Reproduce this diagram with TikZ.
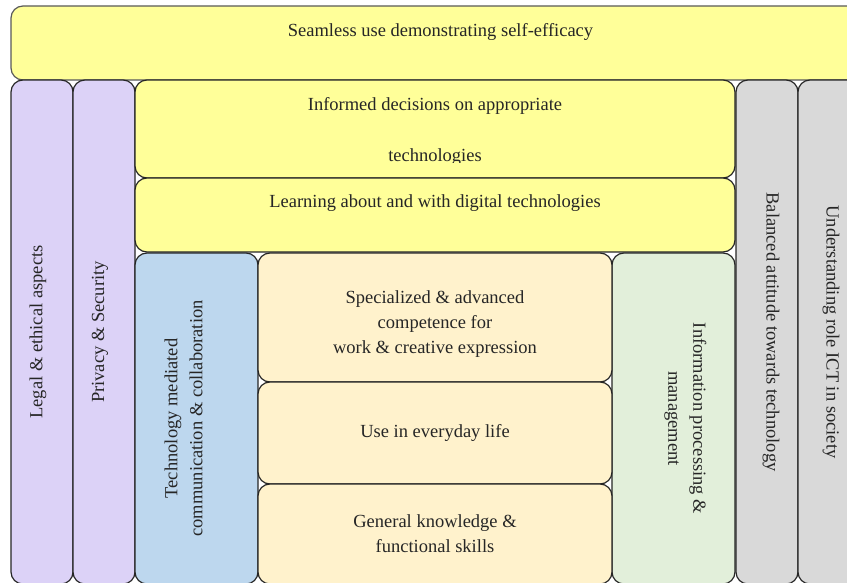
\documentclass[tikz,border=0pt]{standalone}
\usepackage{fontspec}
\setmainfont{Liberation Serif}
\usetikzlibrary{positioning}
\definecolor{fillYellow}{RGB}{255,255,153}
\definecolor{fillLilac}{RGB}{220,210,247}
\definecolor{fillBlue}{RGB}{189,215,238}
\definecolor{fillCream}{RGB}{255,242,204}
\definecolor{fillGreen}{RGB}{226,239,218}
\definecolor{fillGrey}{RGB}{217,217,217}
\tikzset{
	block/.style={
		% The shape:
		rectangle,rounded corners=12pt,inner sep=0pt,
		% The border:
		line width=1.2pt,
		draw=black!85,
	}}
\tikzset{
	caption/.style={
		% The text only:
		text=black!85,font=\fontsize{18.5}{25}\selectfont,align=center,
		inner sep=0pt,
	}}

\begin{document}
\begin{tikzpicture}[x=1pt,y=-1pt]
				\useasboundingbox (0,0) rectangle (847,583);
				\clip (0,0) rectangle (847,583);
				% top band
				\node[block,fill=fillYellow,draw=black!65,minimum width=859,minimum height=74] (top) at (440.5,43) {};
				\node[caption,anchor=base] (toptext) at ([yshift=-31pt]top.north) {Seamless use demonstrating self-efficacy};
				% left columns
				\node[block,fill=fillLilac,minimum width=62,minimum height=504] (legal) at (42,332) {};
				\node[caption,rotate=90] at ([xshift=-4pt]legal.center) {Legal \& ethical aspects};
				\node[block,fill=fillLilac,minimum width=62,minimum height=504] (privacy) at (104,332) {};
				\node[caption,rotate=90] at ([xshift=-4pt]privacy.center) {Privacy \& Security};
				% right columns
				\node[block,fill=fillGrey,minimum width=62,minimum height=504] (balanced) at (767,332) {};
				\node[caption,rotate=-90] at ([xshift=4pt]balanced.center) {Balanced attitude towards technology};
				\node[block,fill=fillGrey,minimum width=62,minimum height=504] (society) at (829,332) {};
				\node[caption,rotate=-90] at ([xshift=2pt]society.center) {Understanding role ICT in society};
				% middle bands
				\node[block,fill=fillYellow,minimum width=600,minimum height=98] (informed) at (435,129) {};
				\node[caption,anchor=base] (informedtext) at ([yshift=-31pt]informed.north) {Informed decisions on appropriate};
				\begin{scope}
					\clip (135,80) rectangle (735,163);
					\node[caption,anchor=base] (informedtext2) at ([yshift=-82pt]informed.north) {technologies};
				\end{scope}
				\node[block,fill=fillYellow,minimum width=600,minimum height=74] (learning) at (435,215) {};
				\node[caption,anchor=base] (learningtext) at ([yshift=-30pt]learning.north) {Learning about and with digital technologies};
				% inner columns
				\node[block,fill=fillBlue,minimum width=123,minimum height=331] (techmed) at (196.5,418.5) {};
				\node[caption,rotate=90] at ([xshift=-13pt]techmed.center) {Technology mediated\\communication \& collaboration};
				\node[block,fill=fillGreen,minimum width=123,minimum height=331] (infoproc) at (673.5,418.5) {};
				\node[caption,rotate=-90] at ([xshift=12pt]infoproc.center) {Information processing \&\\management};
				% stacked core
				\node[block,fill=fillCream,minimum width=354,minimum height=129] (special) at (435,317.5) {};
				\node[caption] at ([yshift=-7pt]special.center) {Specialized \& advanced\\competence for\\work \& creative expression};
				\node[block,fill=fillCream,minimum width=354,minimum height=102] (everyday) at (435,433) {};
				\node[caption] at (everyday.center) {Use in everyday life};
				\node[block,fill=fillCream,minimum width=354,minimum height=100] (general) at (435,534) {};
				\node[caption] at (general.center) {General knowledge \&\\functional skills};
\end{tikzpicture}
\end{document}
